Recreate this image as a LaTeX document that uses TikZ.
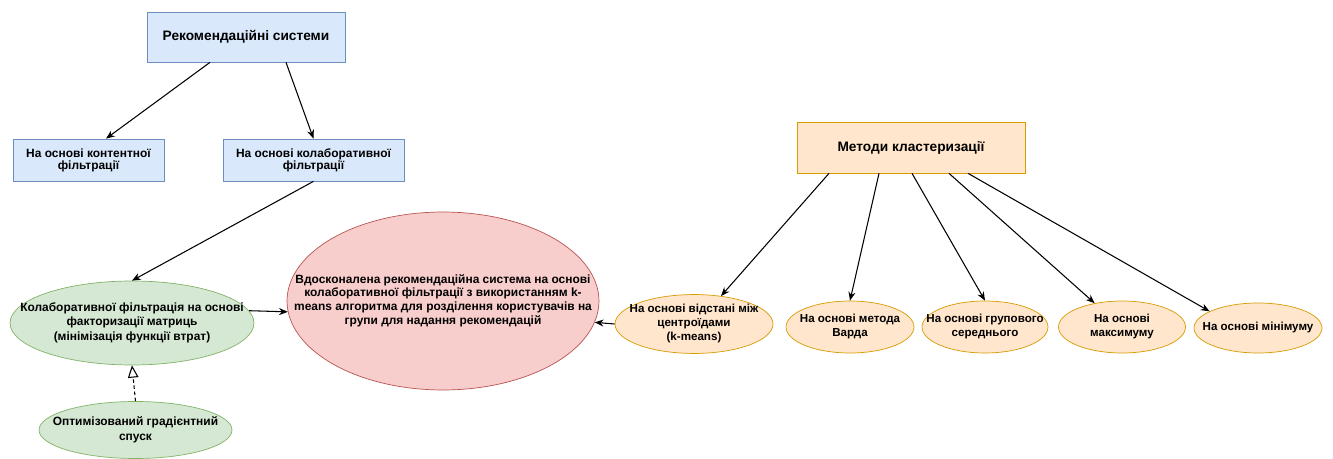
\documentclass[tikz,border=0pt]{standalone}
\usepackage{fontspec}
\setmainfont{Liberation Sans}
\usetikzlibrary{shapes.geometric}
\usetikzlibrary{arrows.meta}
\definecolor{blueFill}{HTML}{DAE8FC}
\definecolor{blueLine}{HTML}{6C8EBF}
\definecolor{greenFill}{HTML}{D5E8D4}
\definecolor{greenLine}{HTML}{82B366}
\definecolor{redFill}{HTML}{F8CECC}
\definecolor{redLine}{HTML}{B85450}
\definecolor{orangeFill}{HTML}{FFE6CC}
\definecolor{orangeLine}{HTML}{D79B00}
% text of an ellipse, so that only the given size counts
\newcommand{\elltext}[1]{\makebox[0pt]{\begin{tabular}{@{}c@{}}#1\end{tabular}}}
\tikzset{
recbox/.style={ % Sets the properties for the blue boxes
rectangle, draw=blueLine, fill=blueFill,
inner sep=0pt, align=center,
font=\bfseries\fontsize{6.8}{6.9}\selectfont},
methodbox/.style={ % Orange heading box
rectangle, draw=orangeLine, fill=orangeFill,
inner sep=0pt, align=center,
font=\bfseries\fontsize{7.8}{9.4}\selectfont},
greenell/.style={ % Ellipses of the method
ellipse, draw=greenLine, fill=greenFill,
inner sep=0pt,
font=\bfseries\fontsize{6.8}{8.3}\selectfont},
redell/.style={
ellipse, draw=redLine, fill=redFill,
inner sep=0pt,
font=\bfseries\fontsize{6.8}{7.8}\selectfont},
orangeell/.style={
ellipse, draw=orangeLine, fill=orangeFill,
inner sep=0pt,
font=\bfseries\fontsize{6.6}{7.9}\selectfont},
every edge/.style={ % Sets the properties for each connector
draw,
-{Stealth[length=5pt,width=4pt]},
semithick}}
\begin{document}
\begin{tikzpicture}[x=0.02cm, y=-0.02cm]
	\useasboundingbox (0,0) rectangle (1333,459);
	% left part
	\node[recbox, minimum width=3.96cm, minimum height=1cm, font=\bfseries\fontsize{7.8}{9.4}\selectfont] (recsys) at (246,37) {Рекомендаційні системи};
	\node[recbox, minimum width=3.02cm, minimum height=0.84cm] (content) at (88.5,160) {На основі контентної\\фільтрації};
	\node[recbox, minimum width=3.62cm, minimum height=0.84cm] (colab) at (313.5,160) {На основі колаборативної\\фільтрації};
	\node[greenell, minimum width=4.88cm, minimum height=1.68cm] (factor) at (132,323) {\elltext{Колаборативної фільтрація на основі\\факторизації матриць\\(мінімізація функції втрат)}};
	\node[greenell, minimum width=3.86cm, minimum height=1.14cm] (gradient) at (135.5,430) {\elltext{Оптимізований градієнтний\\спуск}};
	\node[redell, minimum width=6.24cm, minimum height=3.56cm] (improved) at (443,301) {\elltext{Вдосконалена рекомендаційна система на основі\\колаборативної фільтрації з використанням k-\\means алгоритма для розділення користувачів на\\групи для надання рекомендацій}};
	% right part
	\node[methodbox, minimum width=4.56cm, minimum height=1.02cm] (clust) at (911,147.5) {Методи кластеризації};
	\node[orangeell, minimum width=3.16cm, minimum height=1.16cm] (kmeans) at (694,324) {\elltext{На основі відстані між\\центроїдами\\(k-means)}};
	\node[orangeell, minimum width=2.56cm, minimum height=1.04cm] (ward) at (850,327) {\elltext{На основі метода\\Варда}};
	\node[orangeell, minimum width=2.52cm, minimum height=1.04cm] (average) at (985,327) {\elltext{На основі групового\\середнього}};
	\node[orangeell, minimum width=2.54cm, minimum height=1.04cm] (maximum) at (1122,327) {\elltext{На основі\\максимуму}};
	\node[orangeell, minimum width=2.56cm, minimum height=1.0cm] (minimum) at (1258,328) {\elltext{На основі мінімуму}};
	\draw ([xshift=-0.72cm]recsys.south) edge ([xshift=0.35cm]content.north);
	\draw ([xshift=0.8cm]recsys.south) edge (colab.north);
	\draw (colab.south) edge (factor.north);
	\draw (factor.6) edge (improved.184);
	\draw (gradient.north) edge[dash pattern=on 2pt off 1.5pt, -{Triangle[open, length=7pt, width=6pt]}] (factor.south);
	\draw (kmeans.west) edge (improved.-8);
	\draw ([xshift=-1.64cm]clust.south) edge (kmeans.46);
	\draw ([xshift=-0.64cm]clust.south) edge (ward.north);
	\draw ([xshift=0.02cm]clust.south) edge (average.north);
	\draw ([xshift=0.76cm]clust.south) edge (maximum.139);
	\draw ([xshift=1.14cm]clust.south) edge (minimum.161);
\end{tikzpicture}
\end{document}
